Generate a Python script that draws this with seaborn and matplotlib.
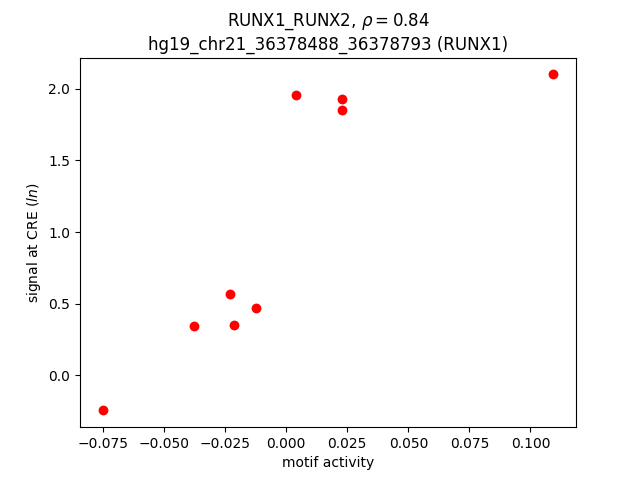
import matplotlib
matplotlib.use("Agg")
import matplotlib.pyplot as plt
import pandas as pd
import seaborn as sns

motif_activity = [-0.0752, -0.0376, -0.0231, -0.0214, -0.0125, 0.0040, 0.0230, 0.0230, 0.1094]
signal_cre = [-0.245, 0.343, 0.566, 0.350, 0.469, 1.958, 1.930, 1.853, 2.100]

df = pd.DataFrame({"motif activity": motif_activity, "signal": signal_cre})

fig, ax = plt.subplots(figsize=(6.4, 4.8), dpi=100)
sns.scatterplot(data=df, x="motif activity", y="signal", color="red", s=50,
                linewidth=0, ax=ax)
ax.set_title("RUNX1_RUNX2, $\\rho = 0.84$\nhg19_chr21_36378488_36378793 (RUNX1)")
ax.set_xlabel("motif activity")
ax.set_ylabel("signal at CRE ($ln$)")
fig.savefig("out.png", dpi=100)
